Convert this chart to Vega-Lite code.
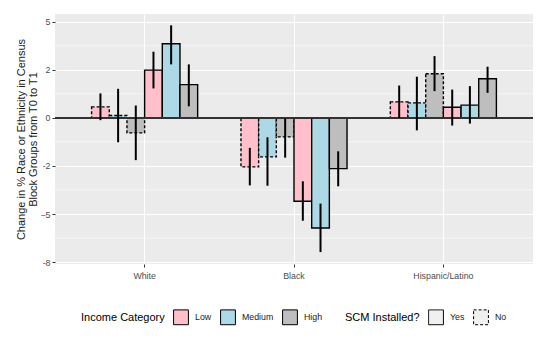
{
  "$schema": "https://vega.github.io/schema/vega-lite/v6.json",
  "width": 478,
  "height": 250,
  "autosize": "none",
  "padding": {"left": 55, "top": 14, "right": 17, "bottom": 83},
  "background": "white",
  "config": {
    "font": "Liberation Sans",
    "view": {"fill": "#EBEBEB", "stroke": null},
    "legend": {
      "orient": "bottom",
      "direction": "horizontal",
      "titleOrient": "left",
      "titleFontSize": 11,
      "titleFontWeight": "normal",
      "titleColor": "#000000",
      "labelFontSize": 8.8,
      "labelColor": "#1a1a1a",
      "symbolType": "square",
      "symbolSize": 220,
      "symbolStrokeColor": "#000000",
      "symbolStrokeWidth": 1,
      "labelOffset": 6,
      "columnPadding": 6,
      "titlePadding": 8,
      "offset": 29,
      "layout": {"bottom": {"anchor": "middle", "direction": "horizontal", "margin": 22}}
    }
  },
  "datasets": {
    "bars": [
      {"race": "White", "bar": "No Low", "scm": "No", "income": "Low", "value": 0.57, "lo": -0.12, "hi": 1.27},
      {"race": "White", "bar": "No Medium", "scm": "No", "income": "Medium", "value": 0.12, "lo": -1.27, "hi": 1.51},
      {"race": "White", "bar": "No High", "scm": "No", "income": "High", "value": -0.78, "lo": -2.2, "hi": 0.64},
      {"race": "White", "bar": "Yes Low", "scm": "Yes", "income": "Low", "value": 2.48, "lo": 1.53, "hi": 3.44},
      {"race": "White", "bar": "Yes Medium", "scm": "Yes", "income": "Medium", "value": 3.85, "lo": 2.78, "hi": 4.81},
      {"race": "White", "bar": "Yes High", "scm": "Yes", "income": "High", "value": 1.73, "lo": 0.6, "hi": 2.78},
      {"race": "Black", "bar": "No Low", "scm": "No", "income": "Low", "value": -2.55, "lo": -3.51, "hi": -1.56},
      {"race": "Black", "bar": "No Medium", "scm": "No", "income": "Medium", "value": -2.03, "lo": -3.53, "hi": -1.01},
      {"race": "Black", "bar": "No High", "scm": "No", "income": "High", "value": -0.99, "lo": -2.07, "hi": -0.04},
      {"race": "Black", "bar": "Yes Low", "scm": "Yes", "income": "Low", "value": -4.34, "lo": -5.35, "hi": -3.3},
      {"race": "Black", "bar": "Yes Medium", "scm": "Yes", "income": "Medium", "value": -5.73, "lo": -6.98, "hi": -4.46},
      {"race": "Black", "bar": "Yes High", "scm": "Yes", "income": "High", "value": -2.64, "lo": -3.56, "hi": -1.74},
      {"race": "Hispanic/Latino", "bar": "No Low", "scm": "No", "income": "Low", "value": 0.83, "lo": 0.0, "hi": 1.68},
      {"race": "Hispanic/Latino", "bar": "No Medium", "scm": "No", "income": "Medium", "value": 0.78, "lo": -0.65, "hi": 2.14},
      {"race": "Hispanic/Latino", "bar": "No High", "scm": "No", "income": "High", "value": 2.29, "lo": 1.39, "hi": 3.21},
      {"race": "Hispanic/Latino", "bar": "Yes Low", "scm": "Yes", "income": "Low", "value": 0.55, "lo": -0.4, "hi": 1.47},
      {"race": "Hispanic/Latino", "bar": "Yes Medium", "scm": "Yes", "income": "Medium", "value": 0.66, "lo": -0.3, "hi": 1.65},
      {"race": "Hispanic/Latino", "bar": "Yes High", "scm": "Yes", "income": "High", "value": 2.03, "lo": 1.3, "hi": 2.66}
    ],
    "minor": [
      {"g": -6.25}, {"g": -3.75}, {"g": -1.25}, {"g": 1.25}, {"g": 3.75}
    ]
  },
  "layer": [
    {
      "data": {"name": "minor"},
      "mark": {"type": "rule", "color": "#FFFFFF", "strokeWidth": 0.55},
      "encoding": {
        "y": {"field": "g", "type": "quantitative",
              "title": ["Change in % Race or Ethnicity in Census", "Block Groups from T0 to T1"],
              "scale": {"domain": [-7.6, 5.4], "nice": false, "zero": false},
              "axis": {"values": [-7.5, -5, -2.5, 0, 2.5, 5],
                       "labelExpr": "datum.value == 2.5 ? '2' : datum.value == -2.5 ? '-2' : datum.value == -7.5 ? '-8' : datum.label",
                       "grid": true, "gridColor": "#FFFFFF", "gridWidth": 1.1, "domain": false,
                       "tickColor": "#333333", "tickSize": 3, "labelColor": "#4D4D4D", "labelFontSize": 8.8,
                       "labelPadding": 2,
                       "titleFontSize": 11, "titleFontWeight": "normal", "titleColor": "#1a1a1a",
                       "titlePadding": 1, "titleLineHeight": 12.5}}
      }
    },
    {
      "data": {"name": "bars"},
      "mark": {"type": "bar", "stroke": "#000000", "strokeWidth": 1.4},
      "encoding": {
        "x": {"field": "race", "type": "nominal",
              "sort": ["White", "Black", "Hispanic/Latino"],
              "scale": {"paddingInner": 0.29, "paddingOuter": 0.245},
              "axis": {"title": null, "bandPosition": 0.5, "grid": true, "gridColor": "#FFFFFF", "gridWidth": 1.1,
                       "domain": false, "tickColor": "#333333", "tickSize": 3, "labelColor": "#4D4D4D",
                       "labelFontSize": 8.8, "labelPadding": 4, "labelAngle": 0}},
        "xOffset": {"field": "bar", "type": "nominal",
                    "sort": ["No Low", "No Medium", "No High", "Yes Low", "Yes Medium", "Yes High"],
                    "scale": {"paddingInner": 0, "paddingOuter": 0}},
        "y": {"field": "value", "type": "quantitative",
              "title": ["Change in % Race or Ethnicity in Census", "Block Groups from T0 to T1"]},
        "fill": {"field": "income", "type": "nominal", "title": "Income Category",
                 "scale": {"domain": ["Low", "Medium", "High"], "range": ["#FFC0CB", "#ADD8E6", "#BEBEBE"]},
                 "legend": {"order": 1}},
        "strokeDash": {"field": "scm", "type": "nominal", "title": "SCM Installed?",
                       "scale": {"domain": ["Yes", "No"], "range": [[1, 0], [3, 2]]},
                       "legend": {"order": 2, "symbolFillColor": "#F0F0F0", "symbolStrokeColor": "#000000"}}
      }
    },
    {
      "data": {"name": "bars"},
      "mark": {"type": "rule", "color": "#333333", "strokeWidth": 1},
      "encoding": {"y": {"datum": 0, "type": "quantitative"}}
    },
    {
      "data": {"name": "bars"},
      "mark": {"type": "rule", "color": "#000000", "strokeWidth": 2},
      "encoding": {
        "x": {"field": "race", "type": "nominal", "sort": ["White", "Black", "Hispanic/Latino"]},
        "xOffset": {"field": "bar", "type": "nominal",
                    "sort": ["No Low", "No Medium", "No High", "Yes Low", "Yes Medium", "Yes High"]},
        "y": {"field": "lo", "type": "quantitative",
              "title": ["Change in % Race or Ethnicity in Census", "Block Groups from T0 to T1"]},
        "y2": {"field": "hi"}
      }
    }
  ]
}
